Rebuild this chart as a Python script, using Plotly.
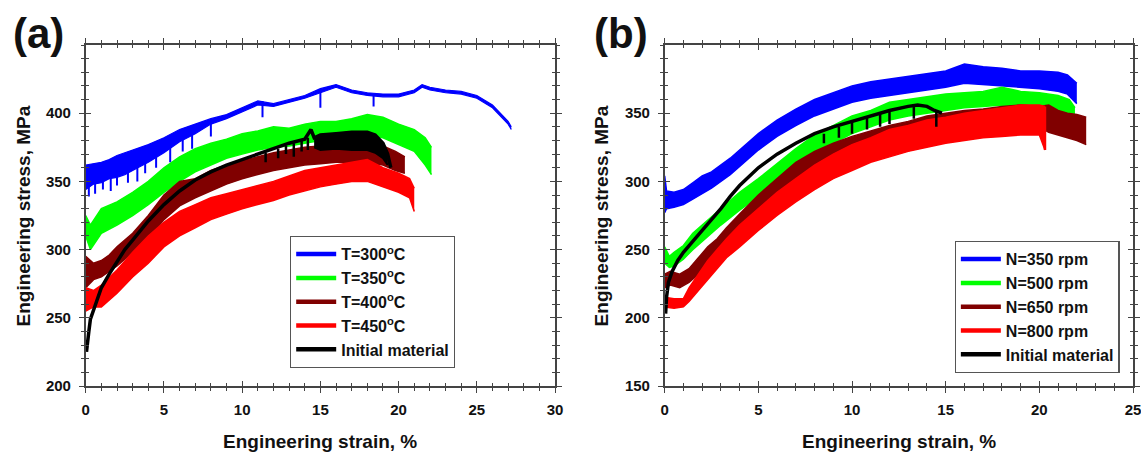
import plotly.graph_objects as go

# target picture is 1141x457; positions below are given in its pixels
TW, TH = 1141, 457
W, H = 1149, 465   # figure size (the photo is fitted to the window)

# ---------------- Panel (a) data: strain (%), stress band (MPa) ----------------
a_blue_x = [0, 0.5, 1, 1.5, 2, 2.5, 3, 3.5, 4, 5, 6, 7, 8, 9, 10, 11, 12, 13, 14, 15, 16, 17, 18, 19, 20, 21, 21.5, 22, 23, 24, 25, 26, 26.5, 27, 27.2]
a_blue_up = [362, 363, 364, 366, 369, 371, 373, 375, 377, 382, 388, 392, 396, 399, 404, 409, 407, 410, 413, 418, 421, 417, 415, 414, 414, 417, 421, 419, 417, 416, 413, 406, 400, 394, 390]
a_blue_lo = [344, 348, 349, 352, 353, 355, 358, 361, 364, 371, 379, 385, 392, 396, 401, 406, 405, 408, 411, 415, 419, 415, 413, 412, 412, 415, 419, 417, 415, 414, 411, 404, 398, 392, 388]
a_blue_spk_x = [0.2, 0.6, 1.1, 1.6, 2.0, 2.7, 3.3, 3.8, 4.5, 5.4, 6.2, 6.8, 8.0, 11.3, 15.0, 18.4]
a_blue_spk_top = [358, 358, 360, 362, 365, 368, 370, 373, 376, 380, 385, 389, 394, 409, 416, 414]
a_blue_spk_bot = [339, 341, 344, 343, 347, 349, 350, 356, 360, 364, 372, 374, 383, 397, 404, 405]

a_green_x = [0, 0.3, 1, 2, 3, 4, 5, 6, 7, 8, 9, 10, 11, 12, 13, 14, 15, 16, 17, 18, 19, 20, 21, 21.7, 22.1]
a_green_up = [325, 318, 330, 335, 342, 350, 360, 368, 374, 378, 381, 385, 387, 390, 389, 392, 394, 394, 396, 399, 397, 392, 388, 382, 375]
a_green_lo = [310, 300, 312, 318, 325, 333, 342, 350, 357, 362, 367, 370, 373, 375, 376, 378, 380, 381, 383, 384, 382, 377, 372, 362, 355]

a_dred_x = [0, 0.5, 1, 1.5, 2, 3, 4, 5, 6, 7, 8, 9, 10, 11, 12, 13, 14, 15, 16, 17, 18, 19, 19.8, 20.4]
a_dred_up = [295, 290, 292, 296, 302, 312, 325, 340, 350, 352, 358, 362, 365, 368, 371, 373, 375, 376, 377, 378, 378, 376, 372, 368]
a_dred_lo = [272, 278, 280, 284, 288, 298, 308, 322, 332, 338, 343, 348, 352, 355, 358, 360, 362, 363, 364, 364, 364, 362, 358, 356]

a_red_x = [0, 0.5, 1, 2, 3, 4, 5, 6, 7, 8, 9, 10, 11, 12, 13, 14, 15, 16, 17, 18, 19, 20, 20.7, 21]
a_red_up = [272, 270, 274, 285, 298, 310, 320, 328, 333, 338, 341, 344, 347, 350, 354, 358, 360, 362, 364, 366, 360, 356, 352, 345]
a_red_lo = [255, 258, 258, 268, 280, 290, 302, 310, 316, 322, 326, 330, 333, 336, 340, 343, 346, 348, 350, 350, 346, 342, 338, 328]

a_black_x = [0.05, 0.1, 0.2, 0.3, 0.5, 0.75, 1, 1.5, 2, 2.5, 3, 4, 5, 6, 7, 8, 9, 10, 11, 12, 13, 14, 14.4, 14.6, 15, 16, 17, 18, 18.5, 19, 19.3, 19.5]
a_black_y = [225, 232, 240, 249, 256, 264, 272, 282, 291, 300, 307, 321, 333, 343, 351, 357, 362, 366, 370, 374, 378, 381, 388, 382, 384, 385, 386, 386, 384, 378, 370, 360]
a_black_band_x = [14.6, 15, 16, 17, 18, 18.5, 19, 19.3]
a_black_band_lo = [375, 373, 374, 373, 373, 371, 367, 362]
a_black_spk_x = [11.5, 12.3, 12.8, 13.3, 13.8, 14.2]
a_black_spk_top = [371, 374, 376, 378, 380, 382]
a_black_spk_bot = [364, 367, 370, 368, 372, 373]

# ---------------- Panel (b) data ----------------
b_blue_x = [0, 0.1, 0.5, 1, 1.5, 2, 2.5, 3, 3.5, 4, 5, 6, 7, 8, 9, 10, 11, 12, 13, 14, 15, 16, 17, 18, 19, 20, 21, 21.5, 22]
b_blue_up = [304, 293, 292, 294, 299, 304, 307, 312, 317, 323, 335, 345, 353, 360, 365, 370, 373, 375, 377, 379, 381, 386, 384, 383, 381, 381, 380, 378, 372]
b_blue_lo = [277, 280, 281, 283, 287, 291, 295, 300, 305, 311, 323, 333, 341, 348, 353, 358, 361, 363, 365, 367, 369, 372, 371, 370, 369, 368, 366, 364, 357]

b_green_x = [0, 0.25, 0.5, 1, 1.5, 2, 2.5, 3, 4, 5, 6, 7, 8, 9, 10, 11, 12, 13, 14, 15, 16, 17, 18, 19, 20, 21, 21.6, 21.9]
b_green_up = [252, 245, 248, 253, 262, 268, 274, 280, 292, 302, 313, 324, 334, 341, 348, 352, 358, 360, 362, 364, 365, 366, 369, 366, 365, 363, 360, 354]
b_green_lo = [240, 237, 238, 243, 250, 256, 262, 268, 279, 289, 300, 311, 321, 328, 335, 340, 345, 348, 350, 352, 354, 355, 356, 354, 353, 351, 349, 345]

b_dred_x = [0, 0.3, 0.8, 1.3, 1.8, 2.3, 2.8, 3.3, 4, 5, 6, 7, 8, 9, 10, 11, 12, 13, 14, 15, 16, 17, 18, 19, 20, 20.5, 21, 21.5, 22, 22.5]
b_dred_up = [232, 234, 232, 236, 244, 252, 258, 266, 276, 290, 302, 314, 322, 328, 333, 337, 341, 344, 348, 350, 352, 353, 355, 356, 355, 356, 352, 350, 349, 347]
b_dred_lo = [222, 224, 222, 226, 232, 240, 246, 252, 262, 276, 288, 300, 308, 315, 320, 324, 328, 331, 334, 336, 338, 339, 340, 340, 340, 336, 334, 332, 330, 327]

b_red_x = [0, 0.5, 1, 1.3, 1.8, 2.3, 2.8, 3.3, 4, 5, 6, 7, 8, 9, 10, 11, 12, 13, 14, 15, 16, 17, 18, 19, 20, 20.3]
b_red_up = [215, 214, 214, 222, 232, 242, 250, 258, 268, 280, 292, 302, 312, 320, 327, 332, 338, 341, 345, 347, 350, 352, 354, 356, 356, 355]
b_red_lo = [208, 207, 208, 212, 220, 228, 236, 244, 252, 264, 275, 285, 294, 302, 308, 314, 318, 322, 325, 328, 330, 332, 333, 334, 334, 323]

b_black_x = [0.05, 0.1, 0.2, 0.4, 0.7, 1, 1.5, 2, 2.5, 3, 3.5, 4, 5, 6, 7, 8, 9, 10, 11, 12, 13, 13.5, 14, 14.4, 14.8]
b_black_y = [203, 215, 226, 234, 242, 248, 256, 264, 272, 280, 289, 297, 310, 320, 328, 335, 340, 344, 348, 352, 355, 356, 355, 352, 350]
b_black_spk_x = [8.5, 9.3, 10.0, 10.8, 11.5, 12.0, 13.3, 14.5]
b_black_spk_top = [335, 340, 344, 347, 350, 352, 356, 352]
b_black_spk_bot = [328, 332, 335, 338, 340, 342, 346, 340]

a_names = ["T=300<sup>o</sup>C", "T=350<sup>o</sup>C", "T=400<sup>o</sup>C", "T=450<sup>o</sup>C", "Initial material"]
b_names = ["N=350 rpm", "N=500 rpm", "N=650 rpm", "N=800 rpm", "Initial material"]
colors = ["#0000ff", "#00ff00", "#800000", "#ff0000", "#000000"]

a_xticks = [0, 5, 10, 15, 20, 25, 30]
a_yticks = [200, 250, 300, 350, 400]
b_xticks = [0, 5, 10, 15, 20, 25]
b_yticks = [150, 200, 250, 300, 350]


def px(x):
    return x / TW


def py(y):
    return 1 - y / TH


fig = go.Figure()


def band(x, up, lo, color, xa, ya, lw=1.5):
    fig.add_trace(go.Scatter(x=x, y=lo, mode="lines", line=dict(color=color, width=lw),
                             showlegend=False, xaxis=xa, yaxis=ya, hoverinfo="skip"))
    fig.add_trace(go.Scatter(x=x, y=up, mode="lines", line=dict(color=color, width=lw),
                             fill="tonexty", fillcolor=color, showlegend=False,
                             xaxis=xa, yaxis=ya, hoverinfo="skip"))


def spikes(xs, tops, bots, color, xa, ya, lw=2):
    sx, sy = [], []
    for x, t, b in zip(xs, tops, bots):
        sx += [x, x, None]
        sy += [t, b, None]
    fig.add_trace(go.Scatter(x=sx, y=sy, mode="lines", line=dict(color=color, width=lw),
                             showlegend=False, xaxis=xa, yaxis=ya, hoverinfo="skip"))


band(a_blue_x, a_blue_up, a_blue_lo, colors[0], "x", "y", 1.2)
spikes(a_blue_spk_x, a_blue_spk_top, a_blue_spk_bot, colors[0], "x", "y")
band(a_green_x, a_green_up, a_green_lo, colors[1], "x", "y")
band(a_dred_x, a_dred_up, a_dred_lo, colors[2], "x", "y")
band(a_red_x, a_red_up, a_red_lo, colors[3], "x", "y")
fig.add_trace(go.Scatter(x=a_black_x, y=a_black_y, mode="lines", line=dict(color="black", width=3.5),
                         showlegend=False, xaxis="x", yaxis="y", hoverinfo="skip"))
a_black_band_up = [a_black_y[a_black_x.index(v)] for v in a_black_band_x]
band(a_black_band_x, a_black_band_up, a_black_band_lo, "black", "x", "y", 2)
spikes(a_black_spk_x, a_black_spk_top, a_black_spk_bot, "black", "x", "y", 2.5)

band(b_blue_x, b_blue_up, b_blue_lo, colors[0], "x2", "y2")
band(b_green_x, b_green_up, b_green_lo, colors[1], "x2", "y2")
band(b_dred_x, b_dred_up, b_dred_lo, colors[2], "x2", "y2")
band(b_red_x, b_red_up, b_red_lo, colors[3], "x2", "y2")
spikes([20.3], [355], [323], colors[3], "x2", "y2", 2.5)
fig.add_trace(go.Scatter(x=b_black_x, y=b_black_y, mode="lines", line=dict(color="black", width=3.5),
                         showlegend=False, xaxis="x2", yaxis="y2", hoverinfo="skip"))
spikes(b_black_spk_x, b_black_spk_top, b_black_spk_bot, "black", "x2", "y2", 2.5)

for name, c in zip(a_names, colors):
    fig.add_trace(go.Scatter(x=[None], y=[None], mode="lines", name=name, line=dict(color=c, width=4.5),
                             xaxis="x", yaxis="y", legend="legend"))
for name, c in zip(b_names, colors):
    fig.add_trace(go.Scatter(x=[None], y=[None], mode="lines", name=name, line=dict(color=c, width=4.5),
                             xaxis="x2", yaxis="y2", legend="legend2"))

fig.add_trace(go.Scatter(x=[None], y=[None], xaxis="x3", yaxis="y3", showlegend=False))
fig.add_trace(go.Scatter(x=[None], y=[None], xaxis="x4", yaxis="y4", showlegend=False))

FONT = "Liberation Sans, Arial, sans-serif"
AX = "#444444"

xa_dom = [px(82), px(553)]
xb_dom = [px(663), px(1133)]
y_dom = [py(386), py(45)]


def main_axis(rng, tickvals, mdt, dom, anchor, standoff):
    return dict(range=rng, domain=dom, anchor=anchor, tickvals=tickvals,
                showline=True, linecolor=AX, linewidth=1.5, mirror="ticks",
                ticks="outside", ticklen=5, tickwidth=1.2, tickcolor=AX,
                minor=dict(dtick=mdt, tick0=0, ticks="outside", ticklen=3, tickwidth=1, tickcolor=AX),
                showgrid=False, zeroline=False, ticklabelstandoff=standoff,
                tickfont=dict(family=FONT, size=15, weight=700, color="#111"))


def over_axis(rng, tickvals, mdt, dom, anchor, over):
    return dict(range=rng, domain=dom, anchor=anchor, overlaying=over, tickvals=tickvals,
                showline=False, mirror="ticks", ticks="inside", ticklen=5, tickwidth=1.2, tickcolor=AX,
                minor=dict(dtick=mdt, tick0=0, ticks="inside", ticklen=3, tickwidth=1, tickcolor=AX),
                showgrid=False, zeroline=False, showticklabels=False)


leg_common = dict(xanchor="left", yanchor="top", bordercolor="#555", borderwidth=1.2, bgcolor="white",
                  font=dict(family=FONT, size=16, weight=700, color="#111"),
                  itemwidth=40, tracegroupgap=0, traceorder="normal")

fig.update_layout(
    width=W, height=H,
    margin=dict(l=0, r=0, t=0, b=0),
    paper_bgcolor="white", plot_bgcolor="white",
    xaxis=main_axis([0, 30], a_xticks, 1, xa_dom, "y", 4),
    yaxis=main_axis([200, 450], a_yticks, 10, y_dom, "x", 5),
    xaxis2=main_axis([0, 25], b_xticks, 1, xb_dom, "y2", 4),
    yaxis2=main_axis([150, 400], b_yticks, 10, y_dom, "x2", 5),
    xaxis3=over_axis([0, 30], a_xticks, 1, xa_dom, "y3", "x"),
    yaxis3=over_axis([200, 450], a_yticks, 10, y_dom, "x3", "y"),
    xaxis4=over_axis([0, 25], b_xticks, 1, xb_dom, "y4", "x2"),
    yaxis4=over_axis([150, 400], b_yticks, 10, y_dom, "x4", "y2"),
    legend=dict(x=px(287), y=py(236), **leg_common),
    legend2=dict(x=px(954), y=py(241), **leg_common),
    showlegend=True,
)

title_font = dict(family=FONT, size=19, weight=700, color="#111")
ann = [
    dict(text="(a)", x=px(35), y=py(33), font=dict(family=FONT, size=42, weight=700, color="#111")),
    dict(text="(b)", x=px(619), y=py(33), font=dict(family=FONT, size=42, weight=700, color="#111")),
    dict(text="Engineering strain, %", x=px(317.5), y=py(441), font=title_font),
    dict(text="Engineering strain, %", x=px(898), y=py(441), font=title_font),
    dict(text="Engineering stress, MPa", x=px(20), y=py(215.5), textangle=-90, font=title_font),
    dict(text="Engineering stress, MPa", x=px(600), y=py(215.5), textangle=-90, font=title_font),
]
for a in ann:
    a.update(xref="paper", yref="paper", showarrow=False, xanchor="center", yanchor="middle")
fig.update_layout(annotations=ann)

fig.write_html("out.html", config={"displayModeBar": False},
               post_script="document.body.style.margin='0px';document.body.style.overflow='hidden';")
